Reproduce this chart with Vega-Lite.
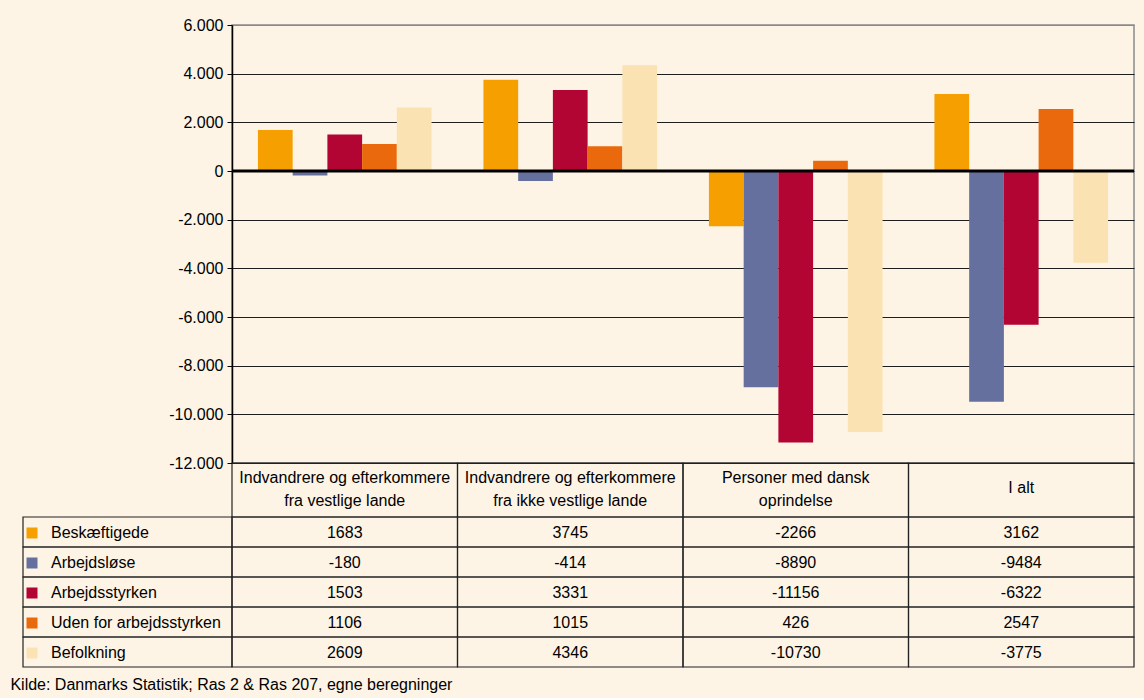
{
  "$schema": "https://vega.github.io/schema/vega-lite/v6.json",
  "background": "#FDF4E6",
  "autosize": {"type": "pad"},
  "padding": {"left": 10, "top": 16, "right": 11, "bottom": 5},
  "config": {
    "font": "Liberation Sans",
    "view": {"stroke": null},
    "text": {"fontSize": 16, "color": "black"}
  },
  "datasets": {
    "tal": [
      {"gruppe": "Indvandrere og efterkommere\nfra vestlige lande", "serie": "Beskæftigede", "antal": 1683},
      {"gruppe": "Indvandrere og efterkommere\nfra vestlige lande", "serie": "Arbejdsløse", "antal": -180},
      {"gruppe": "Indvandrere og efterkommere\nfra vestlige lande", "serie": "Arbejdsstyrken", "antal": 1503},
      {"gruppe": "Indvandrere og efterkommere\nfra vestlige lande", "serie": "Uden for arbejdsstyrken", "antal": 1106},
      {"gruppe": "Indvandrere og efterkommere\nfra vestlige lande", "serie": "Befolkning", "antal": 2609},
      {"gruppe": "Indvandrere og efterkommere\nfra ikke vestlige lande", "serie": "Beskæftigede", "antal": 3745},
      {"gruppe": "Indvandrere og efterkommere\nfra ikke vestlige lande", "serie": "Arbejdsløse", "antal": -414},
      {"gruppe": "Indvandrere og efterkommere\nfra ikke vestlige lande", "serie": "Arbejdsstyrken", "antal": 3331},
      {"gruppe": "Indvandrere og efterkommere\nfra ikke vestlige lande", "serie": "Uden for arbejdsstyrken", "antal": 1015},
      {"gruppe": "Indvandrere og efterkommere\nfra ikke vestlige lande", "serie": "Befolkning", "antal": 4346},
      {"gruppe": "Personer med dansk\noprindelse", "serie": "Beskæftigede", "antal": -2266},
      {"gruppe": "Personer med dansk\noprindelse", "serie": "Arbejdsløse", "antal": -8890},
      {"gruppe": "Personer med dansk\noprindelse", "serie": "Arbejdsstyrken", "antal": -11156},
      {"gruppe": "Personer med dansk\noprindelse", "serie": "Uden for arbejdsstyrken", "antal": 426},
      {"gruppe": "Personer med dansk\noprindelse", "serie": "Befolkning", "antal": -10730},
      {"gruppe": "I alt", "serie": "Beskæftigede", "antal": 3162},
      {"gruppe": "I alt", "serie": "Arbejdsløse", "antal": -9484},
      {"gruppe": "I alt", "serie": "Arbejdsstyrken", "antal": -6322},
      {"gruppe": "I alt", "serie": "Uden for arbejdsstyrken", "antal": 2547},
      {"gruppe": "I alt", "serie": "Befolkning", "antal": -3775}
    ],
    "grupper": [
      {"gruppe": "Indvandrere og efterkommere\nfra vestlige lande"},
      {"gruppe": "Indvandrere og efterkommere\nfra ikke vestlige lande"},
      {"gruppe": "Personer med dansk\noprindelse"},
      {"gruppe": "I alt"}
    ]
  },
  "title": {
    "text": "Kilde: Danmarks Statistik; Ras 2 & Ras 207, egne beregninger",
    "orient": "bottom",
    "anchor": "start",
    "fontSize": 16,
    "fontWeight": "normal",
    "color": "black",
    "offset": 9,
    "dx": -12,
    "baseline": "top"
  },
  "columns": 2,
  "spacing": 0,
  "bounds": "flush",
  "align": "each",
  "resolve": {"scale": {"color": "independent"}, "legend": {"color": "independent"}},
  "concat": [
    {
      "width": 209,
      "height": 438,
      "data": {"values": [{}]},
      "mark": {"type": "text", "text": ""},
      "encoding": {}
    },
    {
      "width": 902,
      "height": 438,
      "view": {"stroke": "#8a8a8a", "strokeWidth": 1.5},
      "layer": [
        {
          "data": {"name": "tal"},
          "mark": {"type": "bar"},
          "encoding": {
            "x": {
              "field": "gruppe", "type": "nominal",
              "sort": ["Indvandrere og efterkommere\nfra vestlige lande", "Indvandrere og efterkommere\nfra ikke vestlige lande", "Personer med dansk\noprindelse", "I alt"],
              "scale": {"paddingInner": 0.23, "paddingOuter": 0.115},
              "axis": null
            },
            "xOffset": {
              "field": "serie", "type": "nominal",
              "sort": ["Beskæftigede", "Arbejdsløse", "Arbejdsstyrken", "Uden for arbejdsstyrken", "Befolkning"],
              "scale": {"paddingInner": 0, "paddingOuter": 0}
            },
            "y": {
              "field": "antal", "type": "quantitative",
              "scale": {"domain": [-12000, 6000], "nice": false},
              "axis": {
                "title": null,
                "values": [-12000, -10000, -8000, -6000, -4000, -2000, 0, 2000, 4000, 6000],
                "labelExpr": "(datum.value < 0 ? '-' : '') + replace(format(abs(datum.value), ',d'), ',', '.')",
                "labelFontSize": 16,
                "labelColor": "black",
                "labelPadding": 4,
                "tickSize": 5,
                "tickColor": "black",
                "domainColor": "black",
                "domainWidth": 1.5,
                "grid": true,
                "gridColor": {"condition": {"test": "datum.value === 6000", "value": "#8a8a8a"}, "value": "#1e1e1e"},
                "gridWidth": 1.2
              }
            },
            "color": {
              "field": "serie", "type": "nominal",
              "scale": {
                "domain": ["Beskæftigede", "Arbejdsløse", "Arbejdsstyrken", "Uden for arbejdsstyrken", "Befolkning"],
                "range": ["#F5A000", "#66709E", "#B30534", "#EA690C", "#FBE2B3"]
              },
              "legend": {
                "orient": "none",
                "legendX": -208,
                "legendY": 500,
                "direction": "vertical",
                "title": null,
                "symbolType": "square",
                "symbolSize": 121,
                "symbolStrokeWidth": 0,
                "labelFontSize": 16,
                "labelColor": "black",
                "labelOffset": 11,
                "rowPadding": 14,
                "padding": 0,
                "labelLimit": 400
              }
            }
          }
        },
        {
          "data": {"values": [{}]},
          "mark": {"type": "rule", "color": "black", "strokeWidth": 3},
          "encoding": {"y": {"datum": 0}}
        }
      ]
    },
    {
      "width": 209,
      "height": 54,
      "data": {"values": [{}]},
      "mark": {"type": "text", "text": ""},
      "encoding": {}
    },
    {
      "width": 902,
      "height": 54,
      "data": {"name": "grupper"},
      "layer": [
        {
          "mark": {"type": "rect", "fill": "transparent", "stroke": "#222", "strokeWidth": 1.2},
          "encoding": {
            "x": {
              "field": "gruppe", "type": "nominal",
              "sort": ["Indvandrere og efterkommere\nfra vestlige lande", "Indvandrere og efterkommere\nfra ikke vestlige lande", "Personer med dansk\noprindelse", "I alt"],
              "scale": {"paddingInner": 0, "paddingOuter": 0},
              "axis": null
            }
          }
        },
        {
          "transform": [{"filter": "datum.gruppe !== 'I alt'"}],
          "mark": {"type": "text", "lineBreak": "\n", "lineHeight": 23, "fontSize": 16, "color": "black", "dy": -12},
          "encoding": {
            "x": {
              "field": "gruppe", "type": "nominal",
              "sort": ["Indvandrere og efterkommere\nfra vestlige lande", "Indvandrere og efterkommere\nfra ikke vestlige lande", "Personer med dansk\noprindelse", "I alt"],
              "axis": null
            },
            "text": {"field": "gruppe", "type": "nominal"}
          }
        },
        {
          "transform": [{"filter": "datum.gruppe === 'I alt'"}],
          "mark": {"type": "text", "fontSize": 16, "color": "black", "dy": -2},
          "encoding": {
            "x": {
              "field": "gruppe", "type": "nominal",
              "sort": ["Indvandrere og efterkommere\nfra vestlige lande", "Indvandrere og efterkommere\nfra ikke vestlige lande", "Personer med dansk\noprindelse", "I alt"],
              "axis": null
            },
            "text": {"field": "gruppe", "type": "nominal"}
          }
        }
      ]
    },
    {
      "width": 209,
      "height": 150,
      "data": {"name": "tal"},
      "transform": [{"filter": "datum.gruppe === 'I alt'"}],
      "mark": {"type": "rect", "fill": "transparent", "stroke": "#222", "strokeWidth": 1.2},
      "encoding": {
        "y": {
          "field": "serie", "type": "nominal",
          "sort": ["Beskæftigede", "Arbejdsløse", "Arbejdsstyrken", "Uden for arbejdsstyrken", "Befolkning"],
          "scale": {"paddingInner": 0, "paddingOuter": 0},
          "axis": null
        }
      }
    },
    {
      "width": 902,
      "height": 150,
      "data": {"name": "tal"},
      "layer": [
        {
          "mark": {"type": "rect", "fill": "transparent", "stroke": "#222", "strokeWidth": 1.2},
          "encoding": {
            "x": {
              "field": "gruppe", "type": "nominal",
              "sort": ["Indvandrere og efterkommere\nfra vestlige lande", "Indvandrere og efterkommere\nfra ikke vestlige lande", "Personer med dansk\noprindelse", "I alt"],
              "scale": {"paddingInner": 0, "paddingOuter": 0},
              "axis": null
            },
            "y": {
              "field": "serie", "type": "nominal",
              "sort": ["Beskæftigede", "Arbejdsløse", "Arbejdsstyrken", "Uden for arbejdsstyrken", "Befolkning"],
              "scale": {"paddingInner": 0, "paddingOuter": 0},
              "axis": null
            }
          }
        },
        {
          "mark": {"type": "text", "fontSize": 16, "color": "black", "dy": 1},
          "encoding": {
            "x": {
              "field": "gruppe", "type": "nominal",
              "sort": ["Indvandrere og efterkommere\nfra vestlige lande", "Indvandrere og efterkommere\nfra ikke vestlige lande", "Personer med dansk\noprindelse", "I alt"],
              "axis": null
            },
            "y": {
              "field": "serie", "type": "nominal",
              "sort": ["Beskæftigede", "Arbejdsløse", "Arbejdsstyrken", "Uden for arbejdsstyrken", "Befolkning"],
              "axis": null
            },
            "text": {"field": "antal", "type": "nominal"}
          }
        }
      ]
    }
  ]
}
